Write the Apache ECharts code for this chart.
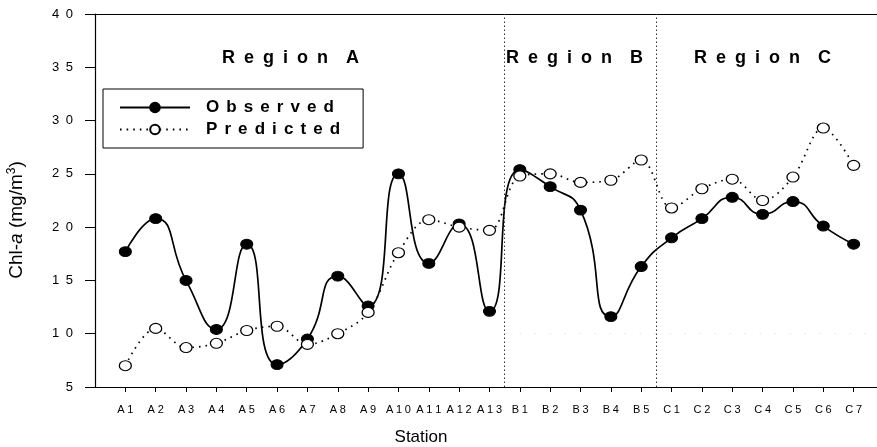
<!DOCTYPE html>
<html>
<head>
<meta charset="utf-8">
<script src="https://cdn.jsdelivr.net/npm/echarts@6/dist/echarts.min.js"></script>
<style>
  html, body { margin: 0; padding: 0; background: #fff; }
  #chart { width: 877px; height: 447px; }
</style>
</head>
<body>
<div id="chart"></div>
<script>
// Sampling stations along the three regions
const stations = ['A1','A2','A3','A4','A5','A6','A7','A8','A9','A10','A11','A12','A13',
                  'B1','B2','B3','B4','B5',
                  'C1','C2','C3','C4','C5','C6','C7'];

// Chlorophyll-a concentration (mg/m3)
const observed  = [17.7, 20.8, 15.0, 10.4, 18.4, 7.1, 9.5, 15.4, 12.6, 25.0, 16.6, 20.3, 12.1,
                   25.4, 23.8, 21.6, 11.6, 16.3,
                   19.0, 20.8, 22.8, 21.2, 22.4, 20.1, 18.4];
const predicted = [7.0, 10.5, 8.7, 9.1, 10.3, 10.7, 9.0, 10.0, 12.0, 17.6, 20.7, 20.0, 19.7,
                   24.8, 25.0, 24.2, 24.4, 26.3,
                   21.8, 23.6, 24.5, 22.5, 24.7, 29.3, 25.8];

// Region boundaries (between A13|B1 and B5|C1) and region names
const regionBreaks = [13.5, 18.5];
const regionNames = ['Region A', 'Region B', 'Region C'];

const yTicks = [5, 10, 15, 20, 25, 30, 35, 40];

const FONT = 'Liberation Sans, Arial, sans-serif';
const spaced = (s, sep) => s.split('').join(sep);

const positions = stations.map((_, i) => i + 1);
const obsData = stations.map((_, i) => [i + 1, observed[i]]);
const predData = stations.map((_, i) => [i + 1, predicted[i]]);

const chart = echarts.init(document.getElementById('chart'), null, { renderer: 'canvas' });

const xMax = 25.77;
const regionLeft = [222, 506, 694];

chart.setOption({
  animation: false,
  backgroundColor: '#ffffff',
  grid: { left: 95, right: 0, top: 14, bottom: 60 },
  xAxis: [{
    type: 'value',
    min: 0,
    max: xMax,
    interval: 1,
    axisLine: { show: true, lineStyle: { color: '#000', width: 1.2 } },
    axisTick: { show: true, customValues: positions, length: 5, lineStyle: { color: '#000', width: 1 } },
    axisLabel: {
      customValues: positions,
      formatter: v => spaced(stations[Math.round(v) - 1] || '', '\u2005'),
      color: '#000', fontSize: 11, fontFamily: FONT, margin: 17
    },
    splitLine: { show: false }
  }, {
    type: 'value',
    position: 'top',
    min: 0,
    max: xMax,
    axisLine: { show: true, onZero: false, lineStyle: { color: '#000', width: 1.2 } },
    axisTick: { show: false },
    axisLabel: { show: false },
    splitLine: { show: false }
  }],
  yAxis: {
    type: 'value',
    min: 5,
    max: 40,
    interval: 5,
    axisLine: { show: true, lineStyle: { color: '#000', width: 1.2 } },
    axisTick: { show: true, length: 10, lineStyle: { color: '#000', width: 1 } },
    axisLabel: {
      formatter: v => yTicks.includes(v) ? spaced(String(v), '\u2002') : '',
      color: '#000', fontSize: 13, fontFamily: FONT, margin: 22
    },
    splitLine: { show: false }
  },
  legend: {
    orient: 'vertical',
    left: 103,
    top: 89,
    padding: [10, 23, 10, 16],
    itemGap: 5,
    itemWidth: 70,
    itemHeight: 12,
    borderColor: '#000',
    borderWidth: 1,
    backgroundColor: '#fff',
    data: ['Observed', 'Predicted'],
    formatter: name => spaced(name, '\u2005\u2006'),
    textStyle: { color: '#000', fontSize: 17, fontWeight: 'bold', fontFamily: FONT, padding: [0, 0, 0, 11], lineHeight: 17 }
  },
  series: [{
    name: 'Observed',
    type: 'line',
    data: obsData,
    smooth: 0.55,
    symbol: 'circle',
    symbolSize: [12, 10],
    itemStyle: { color: '#000', borderColor: '#000', borderWidth: 1 },
    lineStyle: { color: '#000', width: 1.7 },
    markLine: {
      silent: true,
      symbol: 'none',
      label: { show: false },
      lineStyle: { color: '#333', type: [1.5, 2.5], width: 1 },
      data: regionBreaks.map(x => ({ xAxis: x })).concat([[
        { coord: [regionBreaks[0], 10], lineStyle: { color: '#d8d8d8', type: [1, 14], width: 1 } },
        { coord: [xMax, 10] }
      ]])
    },
    z: 2
  }, {
    name: 'Predicted',
    type: 'line',
    data: predData,
    smooth: 0.35,
    symbol: 'circle',
    symbolSize: [12, 10],
    itemStyle: { color: '#fff', borderColor: '#000', borderWidth: 1.2 },
    lineStyle: { color: '#000', width: 1.7, type: [1.6, 5] },
    z: 3
  }],
  graphic: regionNames.map((name, i) => ({
    type: 'text', left: regionLeft[i], top: 49,
    style: {
      text: spaced(name.slice(0, -2), '\u2002') + '\u2002\u2002' + name.slice(-1),
      font: 'bold 18px ' + FONT, fill: '#000'
    }
  })).concat([
    {
      type: 'text',
      x: 17, y: 220,
      rotation: Math.PI / 2,
      style: {
        text: '{n|Chl-}{i|a}{n| (mg/m}{s|3}{n|)}',
        align: 'center',
        verticalAlign: 'middle',
        fill: '#000',
        rich: {
          n: { fontSize: 19, fontFamily: FONT, fill: '#000', lineHeight: 22 },
          i: { fontSize: 19, fontFamily: FONT, fontStyle: 'italic', fill: '#000', lineHeight: 22 },
          s: { fontSize: 12, fontFamily: FONT, fill: '#000', verticalAlign: 'top', lineHeight: 22, padding: [0, 0, 9, 0] }
        }
      }
    },
    {
      type: 'text',
      x: 421, y: 437,
      style: { text: 'Station', font: '17px ' + FONT, fill: '#000', align: 'center', verticalAlign: 'middle' }
    }
  ])
});
</script>
</body>
</html>
